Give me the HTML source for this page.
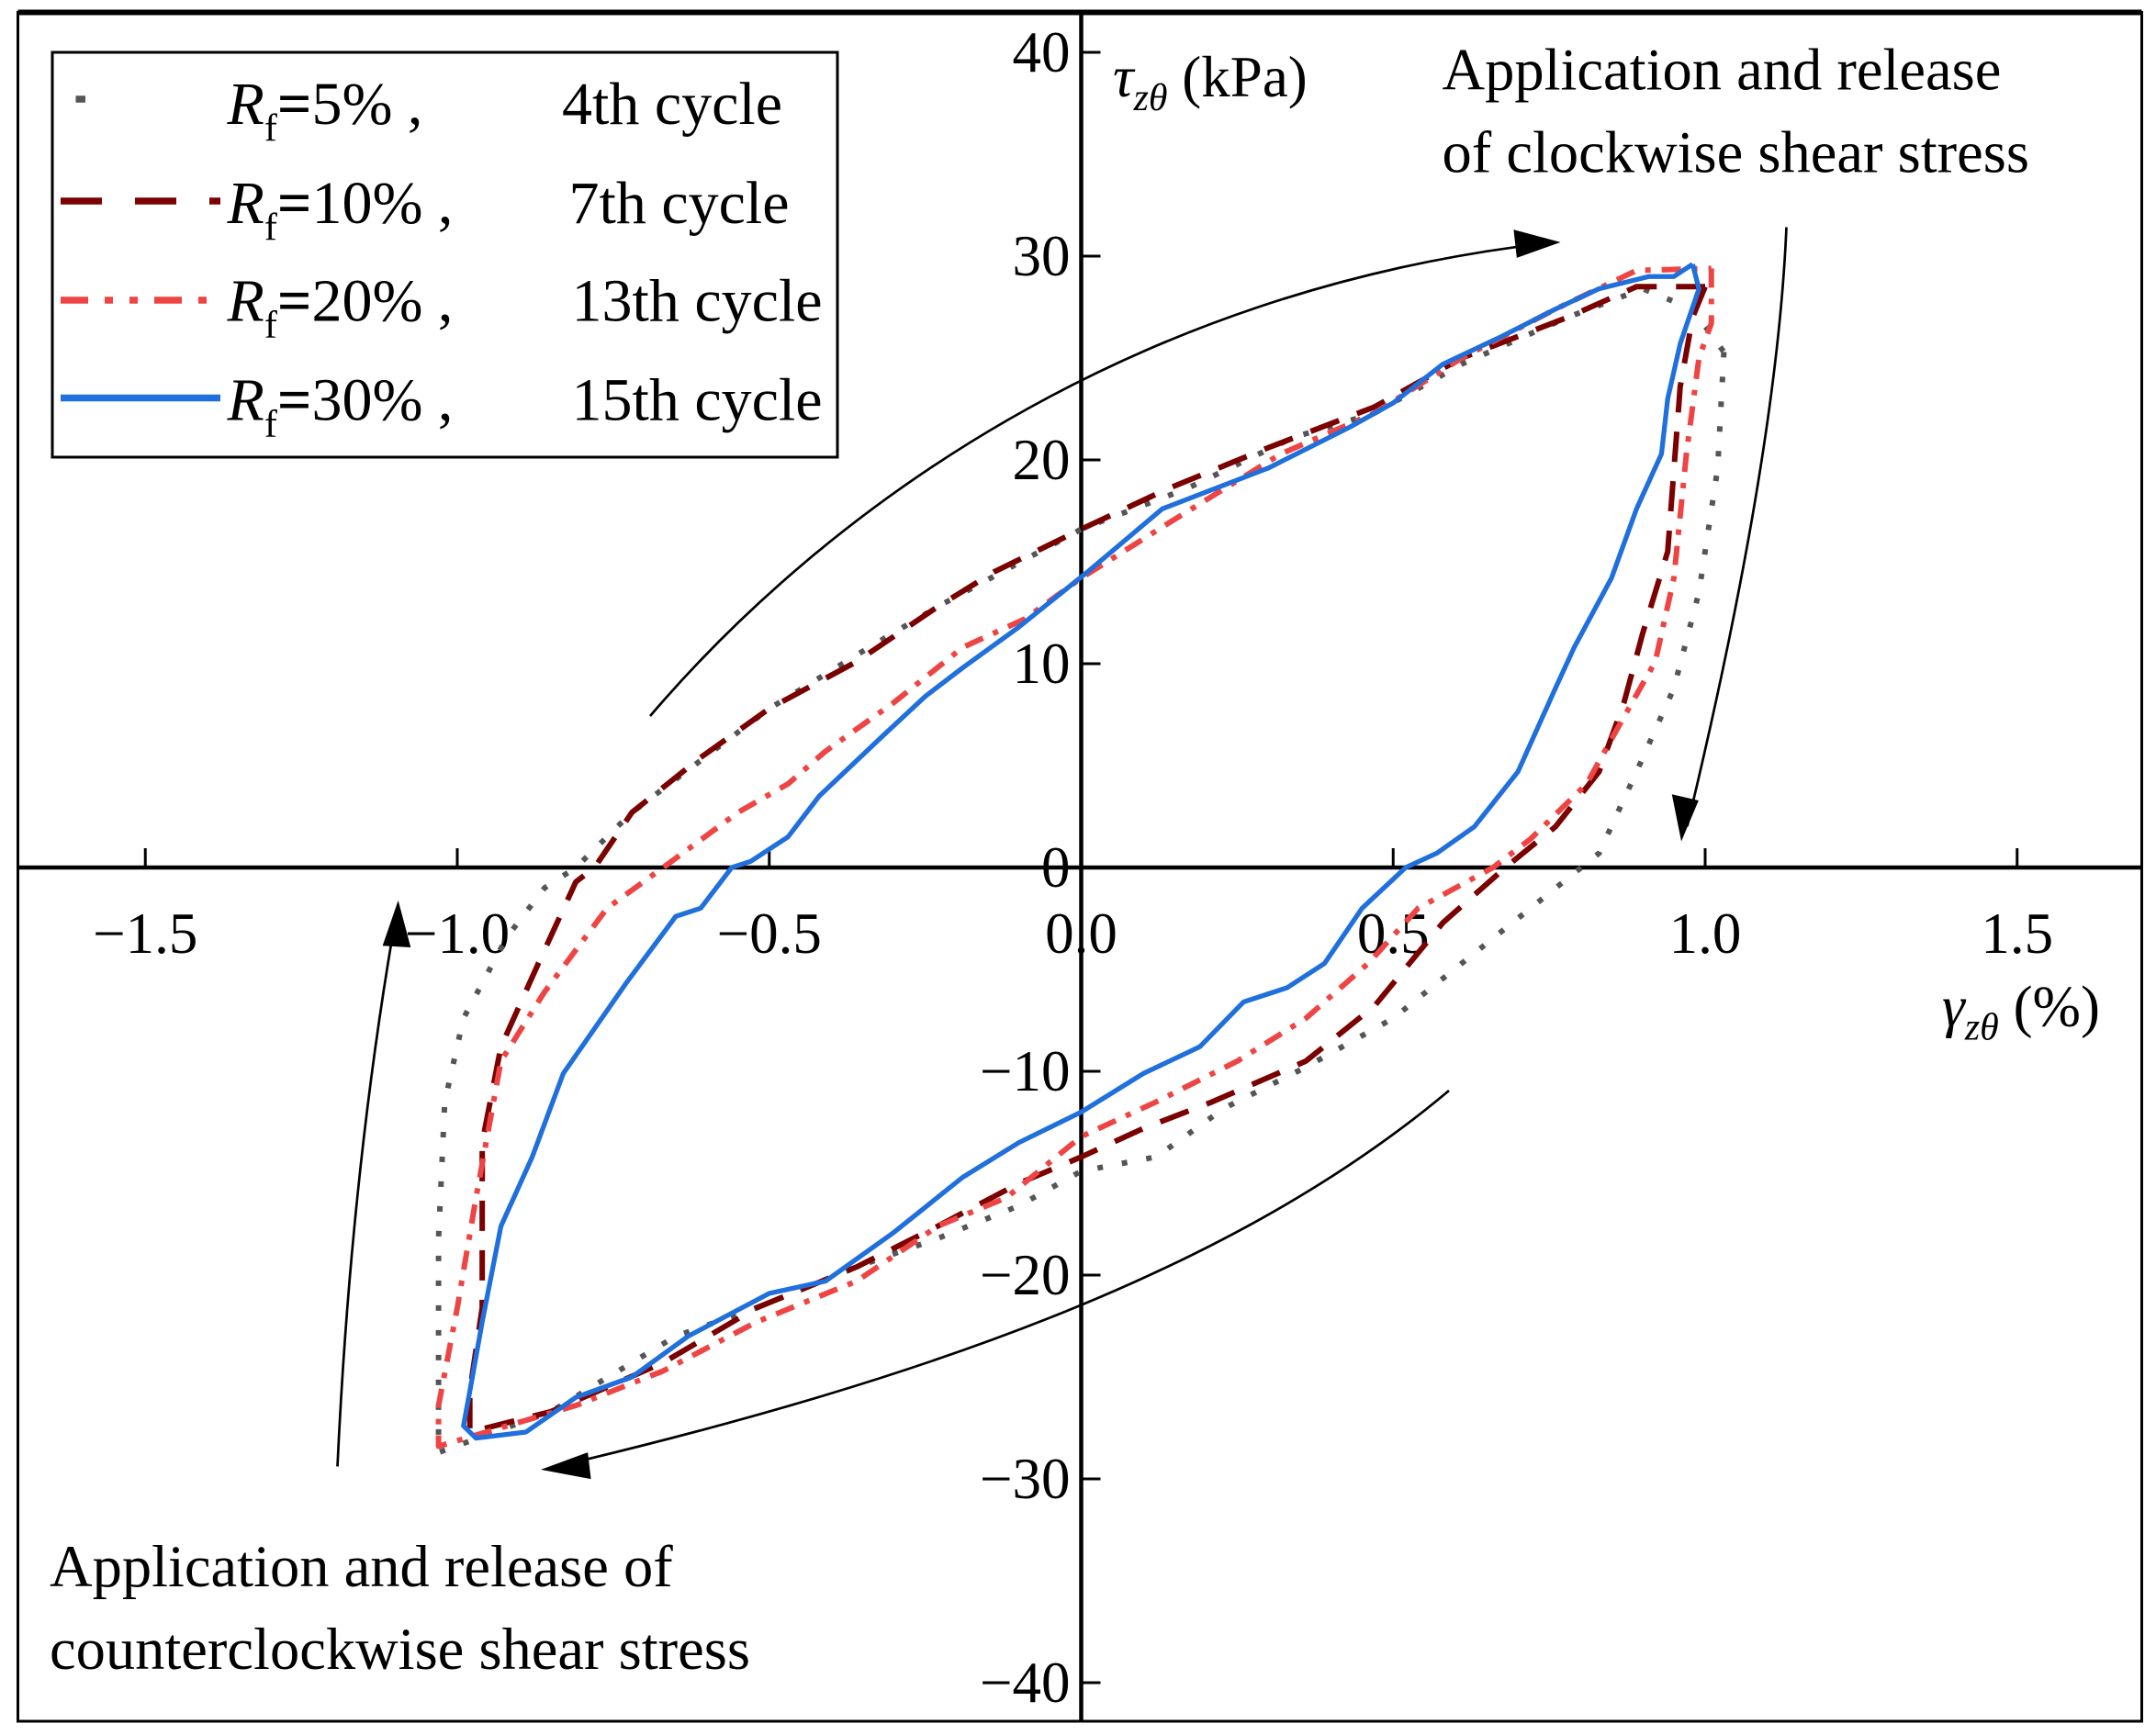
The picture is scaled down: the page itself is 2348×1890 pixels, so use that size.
<!DOCTYPE html>
<html><head><meta charset="utf-8"><style>
html,body{margin:0;padding:0;background:#fff;}
svg{display:block;font-family:"Liberation Serif",serif;}
</style></head><body>
<svg id="chart" width="2348" height="1890" viewBox="0 0 1565.33 1260" xmlns="http://www.w3.org/2000/svg">
<rect x="13" y="9" width="1542" height="1241" fill="#fff" stroke="#000" stroke-width="2"/>
<line x1="13" y1="9" x2="1555" y2="9" stroke="#000" stroke-width="4"/>
<g id="axes"></g>
<g id="series"></g>
<g id="annot" fill="none" stroke="#000" stroke-width="1.8">
<path d="M472,520 C600,370 820,210 1128,176"/>
<polygon points="1130,176 1100,168 1102,186" fill="#000"/>
<path d="M1297,165 Q1290,330 1225,600"/>
<polygon points="1221,608 1215,578 1232,582" fill="#000"/>
<path d="M1052,792 C900,920 680,1000 400,1066"/>
<polygon points="396,1067 426,1056 428,1073" fill="#000"/>
<path d="M245,1065 Q255,850 288,662"/>
<polygon points="289,657 279,686 297,687" fill="#000"/>
</g>
<g>
<rect x="38" y="38" width="570" height="294" fill="#fff" stroke="#000" stroke-width="2"/>
<line x1="55" y1="72" x2="62" y2="72" stroke="#555" stroke-width="5"/>
<line x1="44" y1="146" x2="160" y2="146" stroke="#7b0000" stroke-width="5" stroke-dasharray="30,24"/>
<line x1="44" y1="218" x2="160" y2="218" stroke="#ee4444" stroke-width="5" stroke-dasharray="20,12,6,12,6,12"/>
<line x1="44" y1="289" x2="160" y2="289" stroke="#1f6fdc" stroke-width="5"/>
<g font-size="44" fill="#000">
<text x="165" y="90"><tspan font-style="italic">R</tspan><tspan font-size="28" dy="12">f</tspan><tspan dy="-12" font-weight="bold">=</tspan><tspan>5% ,</tspan><tspan x="408">4th cycle</tspan></text>
<text x="165" y="162"><tspan font-style="italic">R</tspan><tspan font-size="28" dy="12">f</tspan><tspan dy="-12" font-weight="bold">=</tspan><tspan>10% ,</tspan><tspan x="413">7th cycle</tspan></text>
<text x="165" y="233"><tspan font-style="italic">R</tspan><tspan font-size="28" dy="12">f</tspan><tspan dy="-12" font-weight="bold">=</tspan><tspan>20% ,</tspan><tspan x="415">13th cycle</tspan></text>
<text x="165" y="305"><tspan font-style="italic">R</tspan><tspan font-size="28" dy="12">f</tspan><tspan dy="-12" font-weight="bold">=</tspan><tspan>30% ,</tspan><tspan x="415">15th cycle</tspan></text>
</g>
</g>
<g font-size="43" fill="#000">
<text x="1047" y="65">Application and release</text>
<text x="1047" y="125">of clockwise shear stress</text>
<text x="36" y="1152">Application and release of</text>
<text x="36" y="1212">counterclockwise shear stress</text>
<text x="808" y="70" font-size="42"><tspan font-style="italic">τ</tspan><tspan font-style="italic" font-size="28" dy="10">zθ</tspan><tspan dy="-10"> (kPa)</tspan></text>
<text x="1410" y="745" font-size="42"><tspan font-style="italic">γ</tspan><tspan font-style="italic" font-size="28" dy="10">zθ</tspan><tspan dy="-10"> (%)</tspan></text>
</g>
</svg>
<script>
const xTicks=[-1.5,-1.0,-0.5,0.0,0.5,1.0,1.5];
const xTickLabels=["−1.5","−1.0","−0.5","0.0","0.5","1.0","1.5"];
const yTicks=[-40,-30,-20,-10,0,10,20,30,40];
const yTickLabels=["−40","−30","−20","−10","0","10","20","30","40"];
const seriesNames=["Rf5","Rf10","Rf20","Rf30"];
const gRf5=[1.03,1.02,0.99,0.95,0.89,0.83,0.72,0.61,0.50,0.36,0.23,0.12,0,-0.10,-0.23,-0.36,-0.52,-0.65,-0.85,-1.03,-1.03,-1.02,-0.99,-0.92,-0.86,-0.81,-0.72,-0.50,-0.34,-0.23,0,0.17,0.34,0.47,0.61,0.78,0.90,0.98,1.03];
const tRf5=[25.3,19.6,13.5,8.8,4.7,0.7,-2.0,-4.7,-7.4,-9.8,-11.8,-14.2,-14.9,-16.6,-18.2,-19.6,-21.6,-23,-26.7,-28.7,-18.2,-11.5,-7.4,-3.4,-1.0,0,2.7,7.8,10.8,12.8,16.6,18.6,21.1,22.3,24.7,27,28.4,27.4,25.3];
const gRf10=[1.0,0.98,0.96,0.94,0.90,0.87,0.83,0.76,0.68,0.58,0.47,0.36,0.21,0.10,0,-0.10,-0.23,-0.36,-0.52,-0.67,-0.85,-0.98,-0.98,-0.96,-0.96,-0.93,-0.87,-0.81,-0.78,-0.72,-0.61,-0.50,-0.36,-0.23,-0.14,0,0.14,0.30,0.47,0.61,0.78,0.89,1.0];
const tRf10=[28.5,27,23.6,15.5,11.5,8.1,4.7,2.0,0,-2.7,-6.8,-9.5,-11.5,-12.8,-14.2,-15.5,-17.6,-19.6,-21.6,-24.3,-26.7,-27.7,-25.7,-21.6,-13.5,-8.8,-4.7,-0.7,0,2.7,5.4,7.8,10.1,12.8,14.5,16.6,18.6,20.6,22.6,25,27,28.5,28.5];
const gRf20=[1.01,1.01,0.99,0.97,0.95,0.92,0.87,0.81,0.72,0.66,0.54,0.46,0.36,0.25,0.12,0,-0.12,-0.23,-0.36,-0.52,-0.67,-0.81,-1.03,-1.03,-1.00,-0.97,-0.93,-0.86,-0.76,-0.67,-0.55,-0.47,-0.41,-0.30,-0.19,-0.09,0,0.14,0.32,0.47,0.61,0.76,0.89,1.01];
const tRf20=[29.4,26.7,25,20.3,14.2,10.1,7.4,4.1,1.4,0,-2,-4.7,-7.4,-9.5,-11.5,-13.2,-16.2,-17.6,-20.3,-22.3,-24.7,-26.4,-28.4,-26.4,-21.6,-16.2,-9.5,-6.1,-2.0,0,2.7,4.1,5.7,8.1,10.8,12.2,14.2,16.9,20.3,22.3,25,27.4,29.3,29.4];
const gRf30=[0.98,0.99,0.96,0.94,0.93,0.89,0.85,0.79,0.76,0.70,0.63,0.57,0.52,0.45,0.39,0.33,0.26,0.19,0.10,0,-0.10,-0.19,-0.30,-0.41,-0.50,-0.63,-0.72,-0.81,-0.89,-0.97,-0.99,-0.98,-0.96,-0.93,-0.88,-0.83,-0.73,-0.65,-0.61,-0.56,-0.53,-0.47,-0.42,-0.32,-0.25,-0.19,-0.10,0.01,0.13,0.30,0.43,0.50,0.58,0.67,0.76,0.83,0.91,0.95,0.98];
const tRf30=[29.6,28.4,25.7,23,20.3,17.6,14.2,10.8,8.8,4.7,2.0,0.7,0,-2,-4.7,-5.9,-6.6,-8.8,-10.1,-12,-13.5,-15.2,-17.9,-20.3,-20.9,-23,-25,-26,-27.7,-28,-27.4,-25.7,-22.3,-17.6,-14.2,-10.1,-5.7,-2.4,-2.0,0,0.3,1.5,3.5,6.4,8.4,9.8,11.8,14.5,17.6,19.6,21.6,22.8,24.7,26,27.4,28.4,29,29,29.6];

const NS='http://www.w3.org/2000/svg';
const X0=785,XU=453,Y0=630,YU=14.8;
function xs(v){return X0+v*XU;}
function ys(v){return Y0-v*YU;}
const axes=document.getElementById('axes');
function mk(tag,attrs,parent){const e=document.createElementNS(NS,tag);for(const k in attrs)e.setAttribute(k,attrs[k]);parent.appendChild(e);return e;}
let ax=mk('line',{x1:13,y1:Y0,x2:1555,y2:Y0,stroke:'#000','stroke-width':3},axes);


let ay=mk('line',{x1:X0,y1:9,x2:X0,y2:1250,stroke:'#000','stroke-width':3},axes);


xTicks.forEach((v,i)=>{
  const t=mk('line',{x1:xs(v),y1:Y0,x2:xs(v),y2:Y0-14,stroke:'#000','stroke-width':2},axes);
  
  
  const l=mk('text',{x:xs(v),y:Y0+62,'text-anchor':'middle','font-size':42},axes);
  
  
  l.textContent=xTickLabels[i];
});
yTicks.forEach((v,i)=>{
  const t=mk('line',{x1:X0,y1:ys(v),x2:X0+14,y2:ys(v),stroke:'#000','stroke-width':2},axes);
  
  
  const l=mk('text',{x:X0-8,y:ys(v)+14,'text-anchor':'end','font-size':42},axes);
  
  
  l.textContent=yTickLabels[i];
});
const sg=document.getElementById('series');
const styles=[
  {g:gRf5,t:tRf5,c:'#555',d:'4,14',w:4},
  {g:gRf10,t:tRf10,c:'#7b0000',d:'22,14',w:4},
  {g:gRf20,t:tRf20,c:'#ee4444',d:'14,8,4,8',w:4},
  {g:gRf30,t:tRf30,c:'#1f6fdc',d:'none',w:3.5}
];
styles.forEach((s,i)=>{
  const pts=s.g.map((g,j)=>xs(g).toFixed(1)+','+ys(s.t[j]).toFixed(1)).join(' ');
  const p=mk('polyline',{points:pts,fill:'none',stroke:s.c,'stroke-width':s.w,'stroke-dasharray':s.d,'stroke-linejoin':'round'},sg);
  
  
});
</script>
</body></html>
